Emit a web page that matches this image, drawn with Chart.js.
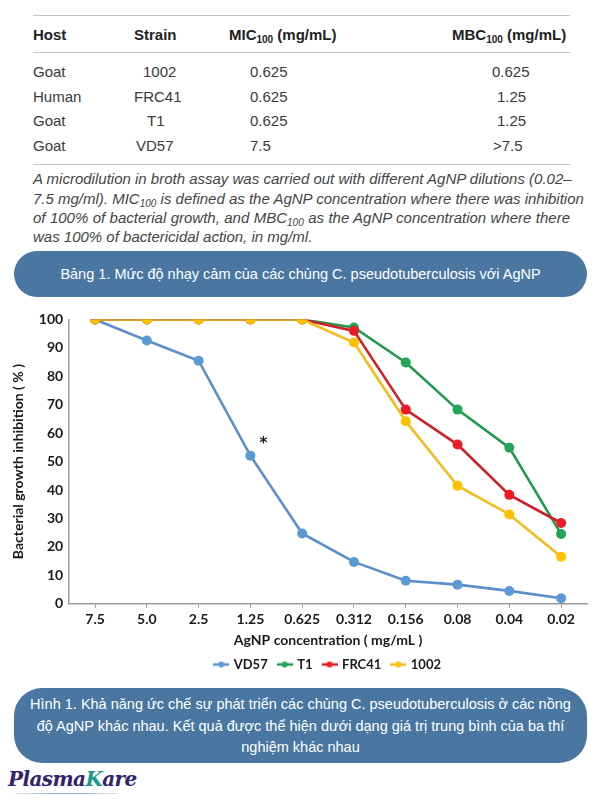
<!DOCTYPE html>
<html>
<head>
<meta charset="utf-8">
<script src="https://cdn.jsdelivr.net/npm/chart.js@4.4.1/dist/chart.umd.min.js"></script>
<style>
  html, body { margin: 0; padding: 0; background: #fff; }
  #page { position: relative; width: 600px; height: 800px; overflow: hidden; font-family: "Liberation Sans", Arial, sans-serif; }
  .abs { position: absolute; white-space: nowrap; }
  .rule { position: absolute; left: 33px; width: 537px; height: 0; border-top: 1.5px solid #c4c4c4; }
  .th { font-weight: bold; font-size: 15px; color: #222; }
  .td { font-size: 15px; color: #3a3a3a; }
  sub { font-size: 10px; vertical-align: -3px; }
  .cap { position: absolute; left: 33px; width: 537px; font-style: italic; font-size: 15px; color: #444;
         text-align: justify; text-align-last: justify; white-space: nowrap; }
  .cap.last { text-align-last: left; }
  .banner { position: absolute; left: 14px; width: 573px; background: #4a77a2; color: #fff; text-align: center; }
  #chartBox { position: absolute; left: 0; top: 300px; width: 600px; height: 385px; }
  #logo { position: absolute; left: 8px; top: 767px; font-family: "DejaVu Serif", serif; font-weight: bold; font-style: italic;
          font-size: 20px; color: #33226e; letter-spacing: -0.6px; }
  #logo .k { color: #1d9a8e; }
  #swoosh { position: absolute; left: 14px; top: 793px; width: 105px; height: 0; border-top: 1px solid #9fb6c4; border-radius: 50%; }
</style>
</head>
<body>
<div id="page">
  <!-- bảng 1 -->
  <div class="rule" style="top:15px"></div>
  <div class="abs th" style="left:33px;top:26px">Host</div>
  <div class="abs th" style="left:134px;top:26px">Strain</div>
  <div class="abs th" style="left:229px;top:26px">MIC<sub>100</sub> (mg/mL)</div>
  <div class="abs th" style="left:452px;top:26px">MBC<sub>100</sub> (mg/mL)</div>
  <div class="rule" style="top:52px"></div>

  <div class="abs td" style="left:33px;top:63px">Goat</div>
  <div class="abs td" style="left:143px;top:63px">1002</div>
  <div class="abs td" style="left:250px;top:63px">0.625</div>
  <div class="abs td" style="left:492px;top:63px">0.625</div>

  <div class="abs td" style="left:33px;top:88px">Human</div>
  <div class="abs td" style="left:134px;top:88px">FRC41</div>
  <div class="abs td" style="left:250px;top:88px">0.625</div>
  <div class="abs td" style="left:497px;top:88px">1.25</div>

  <div class="abs td" style="left:33px;top:112px">Goat</div>
  <div class="abs td" style="left:147px;top:112px">T1</div>
  <div class="abs td" style="left:250px;top:112px">0.625</div>
  <div class="abs td" style="left:497px;top:112px">1.25</div>

  <div class="abs td" style="left:33px;top:137px">Goat</div>
  <div class="abs td" style="left:136px;top:137px">VD57</div>
  <div class="abs td" style="left:250px;top:137px">7.5</div>
  <div class="abs td" style="left:493px;top:137px">&gt;7.5</div>
  <div class="rule" style="top:164px"></div>

  <div class="cap" style="top:170px">A microdilution in broth assay was carried out with different AgNP dilutions (0.02–</div>
  <div class="cap" style="top:190px">7.5 mg/ml). MIC<sub>100</sub> is defined as the AgNP concentration where there was inhibition</div>
  <div class="cap" style="top:209px">of 100% of bacterial growth, and MBC<sub>100</sub> as the AgNP concentration where there</div>
  <div class="cap last" style="top:228px">was 100% of bactericidal action, in mg/ml.</div>

  <div class="banner" style="top:251px;height:46px;line-height:46px;border-radius:23px;font-size:14.5px">Bảng 1. Mức độ nhạy cảm của các chủng C. pseudotuberculosis với AgNP</div>

  <div id="chartBox"><canvas id="grafico"></canvas></div>

  <div class="banner" style="top:688px;height:75px;border-radius:28px;font-size:14.5px;line-height:21.5px;padding-top:6px;box-sizing:border-box">
    Hình 1. Khả năng ức chế sự phát triển các chủng C. pseudotuberculosis ở các nồng<br>
    độ AgNP khác nhau. Kết quả được thể hiện dưới dạng giá trị trung bình của ba thí<br>
    nghiệm khác nhau
  </div>

  <div id="logo">Plasma<span class="k">K</span>are</div>
  <div id="swoosh"></div>
</div>

<script>
// Nồng độ AgNP (mg/mL)
const nongDo = ['7.5', '5.0', '2.5', '1.25', '0.625', '0.312', '0.156', '0.08', '0.04', '0.02'];

// % ức chế tăng trưởng theo chủng
const vd57 = [100, 92.6, 85.5, 52.1, 24.7, 14.7, 8.1, 6.7, 4.5, 1.9];
const t1 = [100, 100, 100, 100, 100, 97.2, 84.9, 68.3, 54.9, 24.5];
const frc41 = [100, 100, 100, 100, 100, 96.0, 68.3, 56.0, 38.3, 28.4];
const s1002 = [100, 100, 100, 100, 100, 91.9, 64.2, 41.5, 31.4, 16.5];

const tenChung = ['VD57', 'T1', 'FRC41', '1002'];
const yTicks = [0, 10, 20, 30, 40, 50, 60, 70, 80, 90, 100];

// dấu * cạnh điểm 1.25 của VD57
const saoNhan = { category: '1.25', value: 56 };

const mauDuong = ['#5b8fc9', '#1f9a4e', '#cf1f27', '#f4bb1c'];
const mauDiem = ['#5b9bd5', '#22a554', '#ec1c24', '#ffc000'];

Chart.defaults.font.family = 'Lato, "Open Sans", sans-serif';
Chart.defaults.color = '#1a1a1a';

// marker legend kiểu Excel: đoạn thẳng + chấm tròn
function taoMarker(line, dot) {
    const c = document.createElement('canvas');
    c.width = 16; c.height = 8;
    const g = c.getContext('2d');
    g.strokeStyle = line; g.lineWidth = 2.5;
    g.beginPath(); g.moveTo(0, 4); g.lineTo(16, 4); g.stroke();
    g.fillStyle = dot;
    g.beginPath(); g.arc(8, 4, 3, 0, Math.PI * 2); g.fill();
    return c;
}
const markers = tenChung.map((n, i) => taoMarker(mauDuong[i], mauDiem[i]));

const veSao = {
    id: 'veSao',
    afterDatasetsDraw(chart) {
        const { ctx, scales } = chart;
        const x = scales.x.getPixelForValue(nongDo.indexOf(saoNhan.category)) + 13;
        const y = scales.y.getPixelForValue(saoNhan.value);
        ctx.save();
        ctx.font = 'bold 15px "DejaVu Sans"';
        ctx.fillStyle = '#1a1a1a';
        ctx.textAlign = 'center';
        ctx.textBaseline = 'middle';
        ctx.fillText('*', x, y);
        ctx.restore();
    }
};

const series = [vd57, t1, frc41, s1002];

let chart;
function initGrafico() {
    const ctx = document.getElementById('grafico').getContext('2d');
    chart = new Chart(ctx, {
        type: 'line',
        data: {
            labels: nongDo,
            datasets: series.map((d, i) => ({
                label: tenChung[i],
                data: d,
                borderColor: mauDuong[i],
                backgroundColor: mauDiem[i],
                pointBackgroundColor: mauDiem[i],
                pointBorderColor: mauDiem[i],
                pointRadius: 5,
                pointBorderWidth: 0,
                borderWidth: 2.6,
                tension: 0,
                fill: false,
                order: series.length - i // 1002 vẽ trên cùng như Excel
            }))
        },
        options: {
            responsive: true,
            maintainAspectRatio: false,
            animation: false,
            layout: { padding: { left: 8, right: 13, top: 19.5, bottom: 4 } },
            plugins: {
                tooltip: { enabled: false },
                legend: {
                    position: 'bottom',
                    fullSize: false,
                    labels: {
                        usePointStyle: true,
                        pointStyleWidth: 12,
                        padding: 11,
                        color: '#1a1a1a',
                        font: { size: 13, weight: 'bold' },
                        sort: (a, b) => a.datasetIndex - b.datasetIndex,
                        generateLabels: c => Chart.defaults.plugins.legend.labels.generateLabels(c).map(item => {
                            item.pointStyle = markers[item.datasetIndex];
                            return item;
                        })
                    }
                }
            },
            scales: {
                x: {
                    offset: true,
                    grid: { drawOnChartArea: false, drawTicks: true, tickLength: 4, color: '#9a9a9a' },
                    border: { color: '#9a9a9a', width: 1.5 },
                    ticks: { font: { size: 14, weight: 'bold' }, padding: 3 },
                    title: {
                        display: true,
                        text: 'AgNP concentration ( mg/mL )',
                        font: { size: 14, weight: 'bold', lineHeight: 1 },
                        padding: { top: 2.5, bottom: 0 }
                    }
                },
                y: {
                    min: 0,
                    max: 100,
                    afterBuildTicks: axis => { axis.ticks = yTicks.map(v => ({ value: v })); },
                    grid: { display: false, drawTicks: false },
                    border: { color: '#9a9a9a', width: 1.5 },
                    ticks: { font: { size: 14, weight: 'bold' }, padding: 6 },
                    title: {
                        display: true,
                        text: 'Bacterial growth inhibition ( % )',
                        font: { size: 14, weight: 'bold' },
                        padding: { top: 2, bottom: 6 }
                    }
                }
            }
        },
        plugins: [veSao]
    });
}

window.onload = function() {
    initGrafico();
};
</script>
</body>
</html>
